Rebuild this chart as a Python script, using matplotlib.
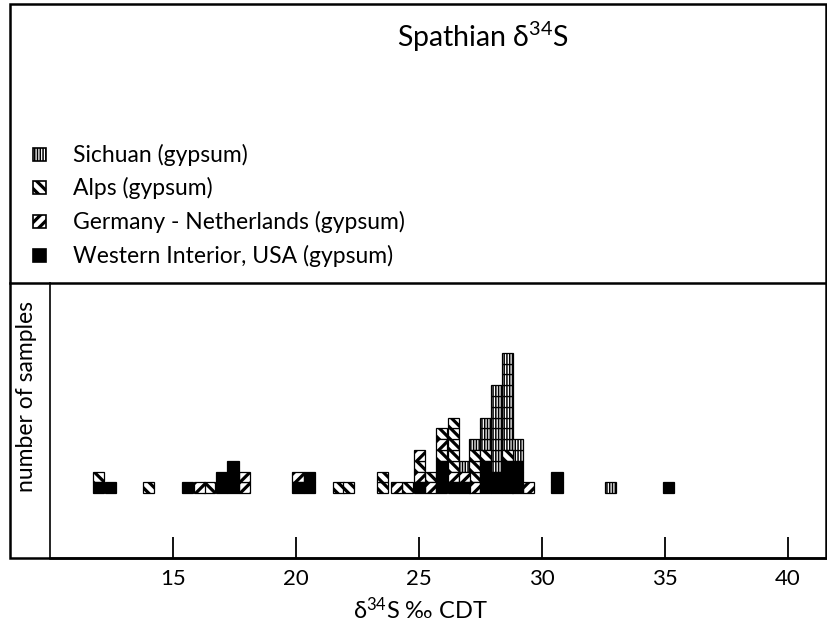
import matplotlib
matplotlib.use("Agg")
import matplotlib.pyplot as plt
from matplotlib.patches import Rectangle

plt.rcParams["font.family"] = ["Lato", "DejaVu Sans"]
plt.rcParams["mathtext.fontset"] = "custom"
plt.rcParams["mathtext.rm"] = "Lato"
plt.rcParams["mathtext.default"] = "regular"

# sample groups, legend order
codes = ["S", "A", "G", "W"]
labels = ["Sichuan (gypsum)", "Alps (gypsum)",
          "Germany - Netherlands (gypsum)", "Western Interior, USA (gypsum)"]
hatches = ["||||||", "\\\\\\", "///", ""]
faces = ["white", "white", "white", "black"]
hatch_lw = {"S": 1.1, "A": 2.3, "G": 2.3, "W": 1.0}

# one column per bin: centre value (permil CDT) and samples from bottom to top
bin_d34s = [11.98, 12.45, 14.02, 15.60, 16.06, 16.50, 16.96, 17.44, 17.89,
            20.08, 20.56, 21.72, 22.14,
            23.51, 24.07, 24.54, 25.01, 25.48, 25.93, 26.39, 26.84, 27.27,
            27.71, 28.16, 28.60, 29.02, 29.46,
            30.61, 32.78, 35.15]
bin_stack = ["WA", "W", "A", "W", "G", "A", "WW", "WWW", "GG",
             "WG", "WW", "A", "A",
             "AA", "G", "A", "WGAG", "GA", "WWWAGA", "WGAAAAA", "WGS", "GAAAS",
             "WWWASSS", "WWSSSSSSSS", "WWWASSSSSSSSS", "WWWSS", "G",
             "WW", "S", "W"]

xticks = [15, 20, 25, 30, 35, 40]

W, H = 827, 627
fig = plt.figure(figsize=(W / 100, H / 100), dpi=100)

# background layer in pixel units: frame, title, legend
bg = fig.add_axes([0, 0, 1, 1])
bg.set_xlim(0, W); bg.set_ylim(H, 0); bg.axis("off")
bg.add_patch(Rectangle((10, 4), 816, 554, fill=False, lw=1.8, ec="black"))
bg.plot([10, 826], [283, 283], color="black", lw=1.8)
bg.text(483, 37, "Spathian δ$^{34}$S", fontsize=20.5, ha="center", va="center")

leg_y = [155, 188, 222, 256]
for code, lab, h, fc, y in zip(codes, labels, hatches, faces, leg_y):
    with plt.rc_context({"hatch.linewidth": hatch_lw[code]}):
        bg.add_patch(Rectangle((33, y - 7), 13, 13, facecolor=fc, edgecolor="black",
                               hatch=h, lw=1.2))
    bg.text(73, y, lab, fontsize=16.5, va="center", ha="left")

bg.text(27, 397, "number of samples", fontsize=16.5, rotation=90, ha="center", va="center")
bg.text(420, 610, "δ$^{34}$S ‰ CDT", fontsize=17, ha="center", va="center")

# data axes
ax = fig.add_axes([50 / W, (H - 558) / H, 777 / W, 275 / H])
ax.set_facecolor("none")
ax.set_xlim(10, 10 + 777 / 24.6)
ax.set_ylim(-6.0, -6.0 + 275 / 10.8)

for code, h, fc in zip(codes, hatches, faces):
    xs, bottoms = [], []
    for x, stack in zip(bin_d34s, bin_stack):
        for level, c in enumerate(stack):
            if c == code:
                xs.append(x)
                bottoms.append(level)
    with plt.rc_context({"hatch.linewidth": hatch_lw[code]}):
        ax.bar(xs, [1] * len(xs), width=0.45, bottom=bottoms, color=fc,
               edgecolor="black", hatch=h, lw=0.9)

ax.set_xticks(xticks)
ax.set_xticklabels([str(t) for t in xticks], fontsize=16)
ax.set_yticks([])
ax.tick_params(axis="x", direction="in", length=15, width=1.3, pad=8)
for side in ("top", "right"):
    ax.spines[side].set_visible(False)
ax.spines["left"].set_linewidth(1.2)
ax.spines["bottom"].set_linewidth(1.8)

fig.savefig("out.png", dpi=100)
